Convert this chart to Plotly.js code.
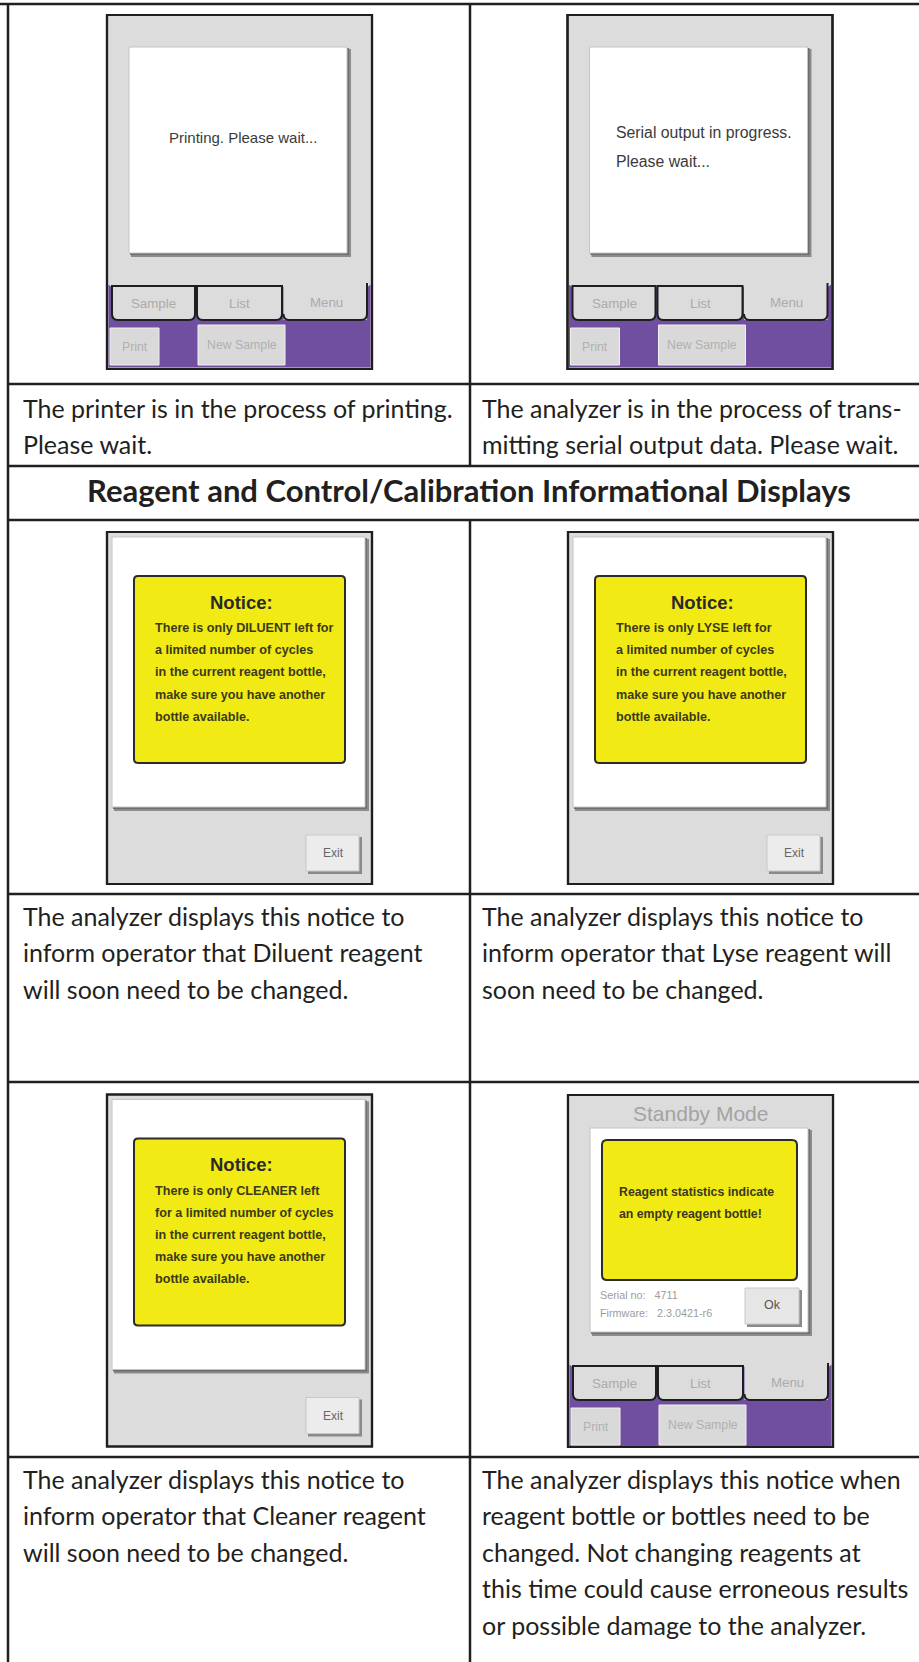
<!DOCTYPE html>
<html>
<head>
<meta charset="utf-8">
<script src="https://cdn.plot.ly/plotly-3.0.1.min.js"></script>
<style>html,body{margin:0;padding:0;background:#fff;}#chart{width:919px;height:1662px;}</style>
</head>
<body>
<div id="chart"></div>
<script>
// ---------------- DATA (texts) ----------------
const sectionTitle = "Reagent and Control/Calibration Informational Displays";

const captionsRow1 = [
  ["The printer is in the process of printing.", "Please wait."],
  ["The analyzer is in the process of trans-", "mitting serial output data. Please wait."]
];
const captionsRow2 = [
  ["The analyzer displays this notice to", "inform operator that Diluent reagent", "will soon need to be changed."],
  ["The analyzer displays this notice to", "inform operator that Lyse reagent will", "soon need to be changed."]
];
const captionsRow3 = [
  ["The analyzer displays this notice to", "inform operator that Cleaner reagent", "will soon need to be changed."],
  ["The analyzer displays this notice when", "reagent bottle or bottles need to be", "changed. Not changing reagents at", "this time could cause erroneous results", "or possible damage to the analyzer."]
];

const printMessage = ["Printing. Please wait..."];
const serialMessage = ["Serial output in progress.", "Please wait..."];

const noticeTitle = "Notice:";
const diluentNotice = ["There is only DILUENT left for", "a limited number of cycles", "in the current reagent bottle,", "make sure you have another", "bottle available."];
const lyseNotice = ["There is only LYSE left for", "a limited number of cycles", "in the current reagent bottle,", "make sure you have another", "bottle available."];
const cleanerNotice = ["There is only CLEANER left", "for a limited number of cycles", "in the current reagent bottle,", "make sure you have another", "bottle available."];
const exitLabel = "Exit";

const standbyTitle = "Standby Mode";
const standbyMessage = ["Reagent statistics indicate", "an empty reagent bottle!"];
const standbyInfo = ["Serial no:   4711", "Firmware:   2.3.0421-r6"];
const okLabel = "Ok";

const tabLabels = ["Sample", "List", "Menu"];
const buttonLabels = ["Print", "New Sample"];

// ---------------- LAYOUT / STYLE ----------------
const W = 919, H = 1662;
const INK = "#231f20";
const GRAY = "#dcdcdc";
const PURPLE = "#714fa0";
const YELLOW = "#f2ea14";
const DOC_FONT = "Lato, 'Open Sans', sans-serif";
const DEV_FONT = "'Liberation Sans', Arial, sans-serif";

const shapes = [];
const annotations = [];

function rect(x0, y0, x1, y1, fill, lineColor, lw) {
  shapes.push({type: "rect", xref: "x", yref: "y", x0, y0, x1, y1,
    fillcolor: fill || "rgba(0,0,0,0)",
    line: {color: lineColor || "rgba(0,0,0,0)", width: lw || 0}, layer: "above"});
}
function path(d, fill, lineColor, lw) {
  shapes.push({type: "path", xref: "x", yref: "y", path: d,
    fillcolor: fill || "rgba(0,0,0,0)",
    line: {color: lineColor || "rgba(0,0,0,0)", width: lw || 0}, layer: "above"});
}
function line(x0, y0, x1, y1, color, lw) {
  shapes.push({type: "line", xref: "x", yref: "y", x0, y0, x1, y1,
    line: {color, width: lw}, layer: "above"});
}
function rr(x0, y0, x1, y1, r) {
  return `M${x0+r},${y0} L${x1-r},${y0} Q${x1},${y0} ${x1},${y0+r} L${x1},${y1-r} Q${x1},${y1} ${x1-r},${y1} ` +
         `L${x0+r},${y1} Q${x0},${y1} ${x0},${y1-r} L${x0},${y0+r} Q${x0},${y0} ${x0+r},${y0} Z`;
}
function rrBottom(x0, y0, x1, y1, r) {
  return `M${x0},${y0} L${x1},${y0} L${x1},${y1-r} Q${x1},${y1} ${x1-r},${y1} L${x0+r},${y1} Q${x0},${y1} ${x0},${y1-r} Z`;
}
function text(t, x, y, opts) {
  opts = opts || {};
  annotations.push({xref: "x", yref: "y", x, y, text: t, showarrow: false,
    xanchor: opts.xanchor || "left", yanchor: "middle",
    font: {family: opts.family || DOC_FONT, size: opts.size || 25, color: opts.color || INK,
           weight: opts.weight || "normal"}});
}

// ---- table grid ----
const T = {left: 8, mid: 470, top: 4, rows: [384, 466, 520, 894, 1082, 1457]};
const LW = 2.5;
line(0, T.top, W, T.top, INK, LW);
T.rows.forEach(y => line(T.left - 1, y, W, y, INK, LW));
line(T.left, T.top, T.left, H, INK, LW);
line(T.mid, T.top, T.mid, T.rows[1], INK, LW);
line(T.mid, T.rows[2], T.mid, H, INK, LW);

// ---- captions ----
const CAP_X = [21, 480];
const LINE_STEP = 36.4;
function captions(cells, y0) {
  cells.forEach((lines, c) => lines.forEach((t, i) => text(t, CAP_X[c], y0 + i * LINE_STEP, {size: 25})));
}
captions(captionsRow1, 408);
captions(captionsRow2, 916);
captions(captionsRow3, 1479);

text(sectionTitle, 469, 490, {xanchor: "center", size: 31, weight: "bold"});

// ---- device screens ----
const SW = 265;
function devFrame(sx, sy, h) {
  rect(sx, sy, sx + SW, sy + h, GRAY, "#1e1e1e", 2.2);
}
function shadowPanel(sx, sy, x0, y0, x1, y1) {
  rect(sx + x0 + 2, sy + y0 + 2, sx + x1 + 4, sy + y1 + 4, "#8c8c8c", null, 0);
  rect(sx + x0 + 1, sy + y0 + 1, sx + x1 + 2, sy + y1 + 2, "#6e6e6e", null, 0);
  rect(sx + x0, sy + y0, sx + x1, sy + y1, "#ffffff", "#c4c4c4", 1);
}
function bottomBar(sx, sy) {
  rect(sx + 1.5, sy + 270, sx + SW - 1.5, sy + 352.5, PURPLE, null, 0);
  path(rrBottom(sx + 1.5, sy + 1.5, sx + SW - 1.5, sy + 272, 5), GRAY, null, 0);
  const tabs = [[5, 88], [90, 175]];
  tabs.forEach(([a, b], i) => {
    path(rrBottom(sx + a, sy + 271, sx + b, sy + 305, 6), GRAY, "#1e1e1e", 2);
    text(tabLabels[i], sx + (a + b) / 2, sy + 288, {xanchor: "center", family: DEV_FONT, size: 13.3, color: "#ababab"});
  });
  rect(sx + 176.5, sy + 268, sx + 260, sy + 305, GRAY, null, 0);
  path(`M${sx+260},${sy+268} L${sx+260},${sy+299} Q${sx+260},${sy+305} ${sx+254},${sy+305} L${sx+182},${sy+305} Q${sx+176.5},${sy+305} ${sx+176.5},${sy+299}`,
       null, "#1e1e1e", 2);
  text(tabLabels[2], sx + 219, sy + 287, {xanchor: "center", family: DEV_FONT, size: 13.3, color: "#ababab"});
  const btns = [[3, 313, 52, 350], [91, 310, 178, 350]];
  btns.forEach(([a, b, c, d], i) => {
    rect(sx + a, sy + b, sx + c, sy + d, "#d9d9d9", "#efefef", 1);
    text(buttonLabels[i], sx + (a + c) / 2, sy + (b + d) / 2, {xanchor: "center", family: DEV_FONT, size: 12.3, color: "#b0b0b0"});
  });
}
function busyScreen(sx, sy, msg, centered) {
  devFrame(sx, sy, 354);
  bottomBar(sx, sy);
  shadowPanel(sx, sy, 22, 32, 240, 238);
  if (centered) {
    msg.forEach((t, i) => text(t, sx + 136, sy + 122 + i * 28, {xanchor: "center", family: DEV_FONT, size: 15, color: "#3a3a3a"}));
  } else {
    msg.forEach((t, i) => text(t, sx + 46, sy + 117 + i * 29, {family: DEV_FONT, size: 15.8, color: "#3a3a3a"}));
  }
  rect(sx, sy, sx + SW, sy + 354, null, "#1e1e1e", 2.2);
}
function noticeScreen(sx, sy, lines) {
  devFrame(sx, sy, 352);
  shadowPanel(sx, sy, 5, 5, 258, 275);
  path(rr(sx + 27, sy + 44, sx + 238, sy + 231, 4), YELLOW, "#2b2b2b", 2);
  text(noticeTitle, sx + 134, sy + 70, {xanchor: "center", family: DEV_FONT, size: 18.5, weight: "bold", color: "#2a2a2a"});
  lines.forEach((t, i) => text(t, sx + 46, sy + 96 + i * 22.2, {family: DEV_FONT, size: 12.6, weight: "bold", color: "#3a3a1a"}));
  rect(sx + 201, sy + 305, sx + 255, sy + 342, "#8a8a8a", null, 0);
  rect(sx + 199, sy + 303, sx + 252, sy + 339, "#ececec", "#c8c8c8", 1);
  text(exitLabel, sx + 226, sy + 321, {xanchor: "center", family: DEV_FONT, size: 12, color: "#666"});
  rect(sx, sy, sx + SW, sy + 352, null, "#1e1e1e", 2.2);
}
function standbyScreen(sx, sy) {
  devFrame(sx, sy, 352);
  bottomBar(sx, sy);
  text(standbyTitle, sx + 132, sy + 18, {xanchor: "center", family: DEV_FONT, size: 21, color: "#a3a3a3"});
  shadowPanel(sx, sy, 22, 33, 240, 237);
  path(rr(sx + 34, sy + 45, sx + 229, sy + 185, 5), YELLOW, "#2b2b2b", 2);
  standbyMessage.forEach((t, i) => text(t, sx + 49, sy + 97 + i * 21.5, {family: DEV_FONT, size: 12.3, weight: "bold", color: "#3a3a1a"}));
  standbyInfo.forEach((t, i) => text(t, sx + 30, sy + 200 + i * 18, {family: DEV_FONT, size: 10.8, color: "#9c9c9c"}));
  rect(sx + 179, sy + 195, sx + 234, sy + 232, "#8a8a8a", null, 0);
  rect(sx + 177, sy + 193, sx + 231, sy + 229, "#e6e6e6", "#c8c8c8", 1);
  text(okLabel, sx + 204, sy + 210, {xanchor: "center", family: DEV_FONT, size: 12.5, color: "#555"});
  rect(sx, sy, sx + SW, sy + 352, null, "#1e1e1e", 2.2);
}

busyScreen(107, 15, printMessage, true);
busyScreen(567.5, 15, serialMessage, false);
noticeScreen(107, 532, diluentNotice);
noticeScreen(568, 532, lyseNotice);
noticeScreen(107, 1094.5, cleanerNotice);
standbyScreen(568, 1095);

const layout = {
  width: W, height: H,
  margin: {l: 0, r: 0, t: 0, b: 0, pad: 0},
  paper_bgcolor: "#ffffff", plot_bgcolor: "#ffffff",
  showlegend: false,
  xaxis: {range: [0, W], visible: false, fixedrange: true},
  yaxis: {range: [H, 0], visible: false, fixedrange: true},
  shapes, annotations
};
Plotly.newPlot("chart", [], layout, {staticPlot: true, displayModeBar: false});
</script>
</body>
</html>
